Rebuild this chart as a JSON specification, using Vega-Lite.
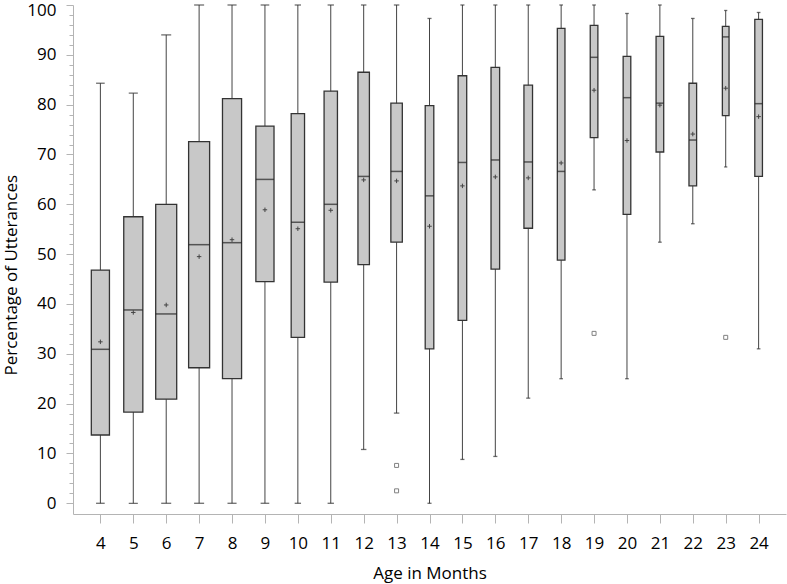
{
  "$schema": "https://vega.github.io/schema/vega-lite/v6.json",
  "width": 713,
  "height": 509,
  "autosize": {"type": "none"},
  "padding": {"left": 73, "top": 5, "right": 1, "bottom": 70},
  "background": "white",
  "config": {
    "view": {"stroke": null},
    "font": "Open Sans",
    "axis": {
      "domainColor": "#b4b4b4",
      "tickColor": "#b4b4b4",
      "labelColor": "#000000",
      "titleColor": "#000000",
      "labelFont": "Open Sans",
      "titleFont": "Open Sans",
      "labelFontSize": 17,
      "titleFontSize": 17,
      "titleFontWeight": "normal",
      "grid": false
    }
  },
  "datasets": {
    "boxes": [
      {"age": 4, "n": 19, "lo": 0, "q1": 13.7, "med": 30.9, "q3": 46.8, "hi": 84.3, "mean": 32.4},
      {"age": 5, "n": 20, "lo": 0, "q1": 18.3, "med": 38.8, "q3": 57.5, "hi": 82.3, "mean": 38.3},
      {"age": 6, "n": 22, "lo": 0, "q1": 20.9, "med": 38.0, "q3": 60.0, "hi": 94.0, "mean": 39.8},
      {"age": 7, "n": 22, "lo": 0, "q1": 27.2, "med": 51.9, "q3": 72.6, "hi": 100, "mean": 49.5},
      {"age": 8, "n": 20, "lo": 0, "q1": 25.0, "med": 52.3, "q3": 81.2, "hi": 100, "mean": 52.9},
      {"age": 9, "n": 19, "lo": 0, "q1": 44.5, "med": 65.0, "q3": 75.7, "hi": 100, "mean": 58.9},
      {"age": 10, "n": 14, "lo": 0, "q1": 33.3, "med": 56.4, "q3": 78.2, "hi": 100, "mean": 55.1},
      {"age": 11, "n": 14, "lo": 0, "q1": 44.4, "med": 60.0, "q3": 82.7, "hi": 100, "mean": 58.8},
      {"age": 12, "n": 12, "lo": 10.8, "q1": 47.9, "med": 65.6, "q3": 86.5, "hi": 100, "mean": 64.9},
      {"age": 13, "n": 12, "lo": 18.1, "q1": 52.4, "med": 66.6, "q3": 80.3, "hi": 100, "mean": 64.7},
      {"age": 14, "n": 9, "lo": 0, "q1": 31.0, "med": 61.7, "q3": 79.8, "hi": 97.3, "mean": 55.6},
      {"age": 15, "n": 9, "lo": 8.8, "q1": 36.7, "med": 68.4, "q3": 85.8, "hi": 100, "mean": 63.7},
      {"age": 16, "n": 9, "lo": 9.4, "q1": 47.0, "med": 68.9, "q3": 87.5, "hi": 100, "mean": 65.5},
      {"age": 17, "n": 9, "lo": 21.1, "q1": 55.2, "med": 68.5, "q3": 83.9, "hi": 100, "mean": 65.3},
      {"age": 18, "n": 8, "lo": 25.0, "q1": 48.8, "med": 66.6, "q3": 95.3, "hi": 100, "mean": 68.3},
      {"age": 19, "n": 8, "lo": 62.9, "q1": 73.4, "med": 89.5, "q3": 95.9, "hi": 100, "mean": 82.9},
      {"age": 20, "n": 8, "lo": 25.0, "q1": 58.0, "med": 81.4, "q3": 89.7, "hi": 98.3, "mean": 72.8},
      {"age": 21, "n": 8, "lo": 52.4, "q1": 70.5, "med": 80.3, "q3": 93.7, "hi": 100, "mean": 79.9},
      {"age": 22, "n": 8, "lo": 56.1, "q1": 63.7, "med": 72.9, "q3": 84.3, "hi": 97.3, "mean": 74.1},
      {"age": 23, "n": 7, "lo": 67.5, "q1": 77.8, "med": 93.6, "q3": 95.7, "hi": 98.9, "mean": 83.3},
      {"age": 24, "n": 8, "lo": 31.0, "q1": 65.6, "med": 80.2, "q3": 97.1, "hi": 98.5, "mean": 77.6}
    ],
    "outliers": [
      {"age": 13, "value": 7.6},
      {"age": 13, "value": 2.5},
      {"age": 19, "value": 34.1},
      {"age": 23, "value": 33.3}
    ]
  },
  "encoding": {
    "x": {
      "field": "age",
      "type": "quantitative",
      "scale": {"domain": [3.32, 24.68], "nice": false, "zero": false},
      "axis": {
        "values": [4,5,6,7,8,9,10,11,12,13,14,15,16,17,18,19,20,21,22,23,24],
        "title": "Age in Months",
        "tickSize": 9,
        "labelPadding": 12,
        "labelFlush": false,
        "titleY": 64,
        "titleBaseline": "alphabetic"
      }
    }
  },
  "layer": [
    {
      "data": {"name": "boxes"},
      "mark": {"type": "rule", "color": "#444444", "strokeWidth": 1},
      "encoding": {
        "y": {
          "field": "lo",
          "type": "quantitative",
          "scale": {"domain": [-2.15, 100], "nice": false, "zero": false},
          "axis": {
            "orient": "left",
            "values": [0,10,20,30,40,50,60,70,80,90,100],
            "title": "Percentage of Utterances",
            "tickSize": 7,
            "labelPadding": 10,
            "labelFlush": true,
            "labelFlushOffset": 2.5,
            "titleX": -56.5,
            "titleY": 370,
            "titleAngle": -90,
            "titleAlign": "left",
            "titleBaseline": "alphabetic"
          }
        },
        "y2": {"field": "hi"}
      }
    },
    {
      "data": {"name": "boxes"},
      "transform": [{"fold": ["lo", "hi"], "as": ["which", "cap"]}],
      "mark": {"type": "tick", "orient": "horizontal", "color": "#303030", "thickness": 1.3},
      "encoding": {
        "y": {
          "field": "cap",
          "type": "quantitative",
          "axis": {
            "orient": "left",
            "values": [2,4,6,8,12,14,16,18,22,24,26,28,32,34,36,38,42,44,46,48,52,54,56,58,62,64,66,68,72,74,76,78,82,84,86,88,92,94,96,98],
            "labels": false,
            "domain": false,
            "tickSize": 4,
            "title": null,
            "tickColor": "#b4b4b4"
          }
        },
        "size": {"field": "n", "type": "quantitative", "legend": null, "scale": {"domain": [0, 22], "range": [0, 10]}}
      }
    },
    {
      "data": {"name": "boxes"},
      "mark": {"type": "bar", "fill": "#c8c8c8", "stroke": "#333333", "strokeWidth": 1.3},
      "encoding": {
        "y": {"field": "q1", "type": "quantitative", "axis": null},
        "y2": {"field": "q3"},
        "size": {"field": "n", "type": "quantitative", "legend": null, "scale": {"domain": [0, 22], "range": [0, 21]}}
      }
    },
    {
      "data": {"name": "boxes"},
      "mark": {"type": "tick", "orient": "horizontal", "color": "#222222", "thickness": 1.5},
      "encoding": {
        "y": {"field": "med", "type": "quantitative", "axis": null},
        "size": {"field": "n", "type": "quantitative", "legend": null, "scale": {"domain": [0, 22], "range": [0, 21]}}
      }
    },
    {
      "data": {"name": "boxes"},
      "mark": {"type": "point", "shape": "M-1,0H1M0,-1V1", "size": 20, "filled": false, "stroke": "#444444", "strokeWidth": 1, "opacity": 1},
      "encoding": {
        "y": {"field": "mean", "type": "quantitative", "axis": null}
      }
    },
    {
      "data": {"name": "outliers"},
      "mark": {"type": "point", "shape": "square", "size": 16, "filled": false, "stroke": "#808080", "strokeWidth": 1, "opacity": 1},
      "encoding": {
        "y": {"field": "value", "type": "quantitative", "axis": null}
      }
    }
  ],
  "resolve": {"scale": {"size": "independent"}, "axis": {"y": "independent"}}
}
